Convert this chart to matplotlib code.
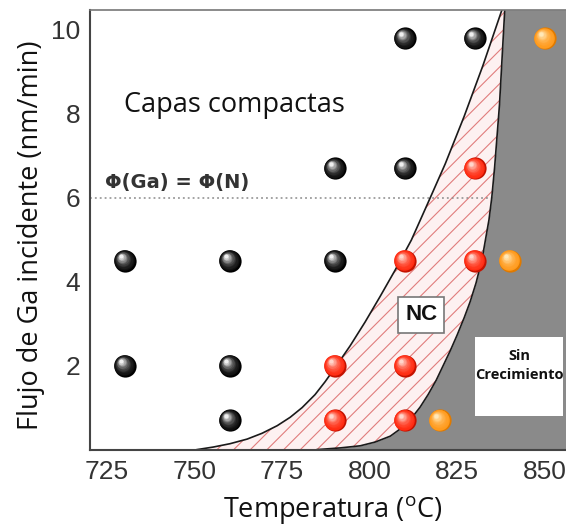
import numpy as np
import matplotlib
matplotlib.use("Agg")
import matplotlib.pyplot as plt
from matplotlib.colors import to_rgb
from matplotlib.patches import Rectangle
from matplotlib.transforms import offset_copy

plt.rcParams['mathtext.fontset'] = 'custom'
plt.rcParams['mathtext.rm'] = 'Open Sans'
plt.rcParams['hatch.linewidth'] = 0.8

# Muestras: temperatura (C) y flujo de Ga (nm/min)
compact_T = [810, 830, 790, 810, 730, 760, 790, 730, 760, 760]
compact_F = [9.8, 9.8, 6.7, 6.7, 4.5, 4.5, 4.5, 2.0, 2.0, 0.7]
nc_T = [830, 810, 830, 790, 810, 790, 810]
nc_F = [6.7, 4.5, 4.5, 2.0, 2.0, 0.7, 0.7]
none_T = [850, 840, 820]
none_F = [9.8, 4.5, 0.7]

# Limites de la region NC
left_T = [750.7, 755.3, 760.1, 765.0, 769.3, 773.6, 777.3, 780.7, 784.4, 787.3, 790.1,
          794.4, 798.7, 803.0, 807.3, 811.9, 816.4, 821.6, 827.0, 832.4, 837.8]
left_F = [0.0, 0.06, 0.14, 0.25, 0.39, 0.57, 0.77, 1.0, 1.31, 1.62, 1.95,
          2.47, 3.04, 3.65, 4.28, 4.99, 5.83, 6.81, 7.94, 9.16, 10.48]
right_T = [785.0, 791.6, 797.3, 801.6, 805.9, 808.7, 811.6, 814.4, 816.7, 819.0, 821.0,
           823.0, 825.0, 827.0, 828.7, 830.4, 832.1, 834.1, 834.9, 835.7, 837.1, 838.6]
right_F = [0.0, 0.04, 0.09, 0.18, 0.32, 0.49, 0.71, 1.01, 1.31, 1.65, 2.0,
           2.35, 2.73, 3.14, 3.52, 3.97, 4.53, 5.48, 6.01, 6.72, 8.22, 10.48]

stoich_flux = 6.0

fig = plt.figure(figsize=(5.66, 5.25), dpi=100)
ax = fig.add_axes([90 / 566, 75 / 525, 476 / 566, 440 / 525])
xmin, xmax = 720.1, 856.1
ax.set_xlim(xmin, xmax)
ax.set_ylim(-0.01, 10.475)


def mix(c1, c2, f):
    a, b = np.array(to_rgb(c1)), np.array(to_rgb(c2))
    return tuple(a + (b - a) * f)


def spheres(xs, ys, rim, body, shine):
    r = 8.0
    n = 12
    for k in range(n):
        f = k / (n - 1)
        size = (2 * r * (1 - 0.82 * f)) ** 2
        col = rim if k == 0 else mix(body, shine, f ** 2)
        tr = offset_copy(ax.transData, fig=fig, x=-0.33 * r * f, y=0.4 * r * f, units='points')
        ax.scatter(xs, ys, s=size, color=[col], transform=tr, linewidths=0, zorder=5 + k * 0.01)


# region sin crecimiento
ax.fill_betweenx(right_F, right_T, 860, color='#8a8a8a', linewidth=0, zorder=1)
# region NC rayada
poly_T = left_T + right_T[::-1]
poly_F = left_F + right_F[::-1]
ax.fill(poly_T, poly_F, facecolor='#fdf1f1', edgecolor='#e07c7c', hatch='//', linewidth=0, zorder=1.2)
ax.plot(left_T, left_F, color='#1a1a1a', lw=1.2, zorder=2)
ax.plot(right_T, right_F, color='#1a1a1a', lw=1.2, zorder=2)

ax.axhline(stoich_flux, color='#8a8a8a', lw=1.1, linestyle=(0, (1.2, 2)), zorder=1.5)

spheres(compact_T, compact_F, '#000000', '#0c0c0c', '#f0f0f0')
spheres(nc_T, nc_F, '#c41200', '#ff2a10', '#ffd6cc')
spheres(none_T, none_F, '#e07a00', '#ff9a1c', '#ffe8b8')

ax.text(724.4, 6.36, '\u03a6(Ga) = \u03a6(N)', fontsize=14, fontweight='bold',
        family='DejaVu Sans', color='#333333', ha='left', va='center', zorder=3)
ax.text(729.8, 8.2, 'Capas compactas', fontsize=19.5, family='Open Sans', color='#111111',
        ha='left', va='center', zorder=3)
ax.text(814.7, 3.21, 'NC', fontsize=16, fontweight='bold', family='Liberation Sans', color='#111111',
        ha='center', va='center', zorder=6,
        bbox=dict(boxstyle='square,pad=0.33', facecolor='white', edgecolor='#777777', linewidth=1.2))
ax.add_patch(Rectangle((830.1, 0.79), 25.2, 1.9, facecolor='white', edgecolor='none', zorder=6))
ax.text(842.7, 2.0, 'Sin\nCrecimiento', fontsize=10.5, fontweight='bold', family='Open Sans',
        color='#111111', ha='center', va='center', linespacing=1.5, zorder=7)

ax.set_xticks([725, 750, 775, 800, 825, 850])
ax.set_yticks([2, 4, 6, 8, 10])
ax.tick_params(length=0, labelsize=19, labelcolor='#333333', pad=7)
for lab in ax.get_xticklabels() + ax.get_yticklabels():
    lab.set_family('Liberation Sans')

ax.spines['right'].set_visible(False)
ax.spines['left'].set_color('#444444')
ax.spines['bottom'].set_color('#444444')
ax.spines['left'].set_linewidth(1.5)
ax.spines['bottom'].set_linewidth(1.5)
ax.spines['top'].set_color('#777777')
ax.spines['top'].set_linewidth(1.2)

ax.set_xlabel('Temperatura ($\\mathrm{^o}$C)', fontsize=19.5, family='Open Sans', color='#111111')
ax.set_ylabel('Flujo de Ga incidente (nm/min)', fontsize=19.5, family='Open Sans', color='#111111')
ax.xaxis.set_label_coords(0.51, -0.1)
ax.yaxis.set_label_coords(-0.095, 0.489)

fig.savefig('out.png', dpi=100)
